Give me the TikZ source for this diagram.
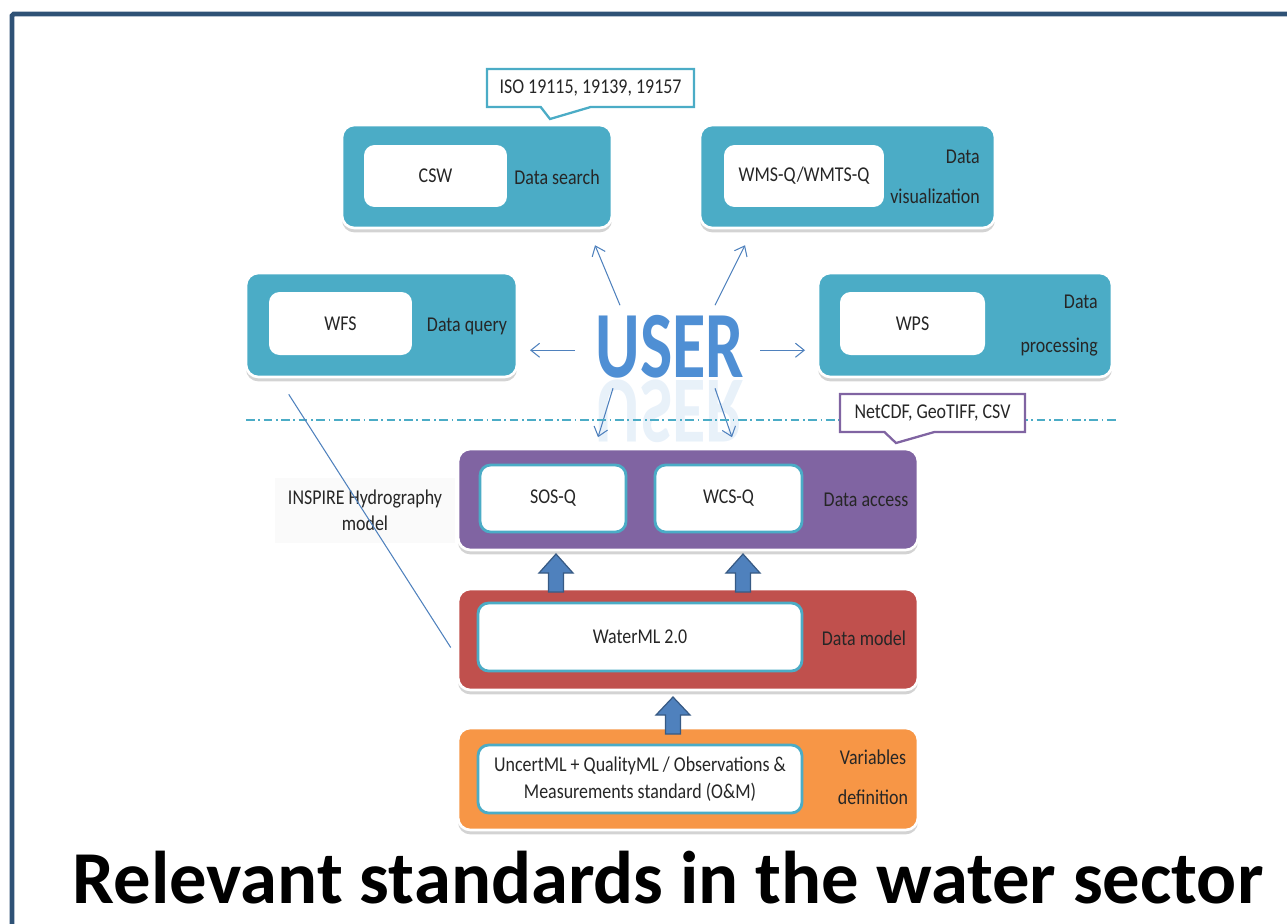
\documentclass[tikz,border=0pt]{standalone}
\usepackage{fontspec}
\setmainfont{Carlito}
\newfontfamily\boxfont{Carlito}[FakeStretch=0.85]
\newfontfamily\userfont{Carlito}[FakeStretch=0.72]
\usetikzlibrary{shapes.callouts,shadows,arrows.meta,calc}

\definecolor{svcteal}{HTML}{4BACC6}
\definecolor{accpurple}{HTML}{8064A2}
\definecolor{mdlred}{HTML}{C0504D}
\definecolor{varorange}{HTML}{F79646}
\definecolor{arrowblue}{HTML}{4F81BD}
\definecolor{userblue}{HTML}{4F8FD4}
\definecolor{framenavy}{HTML}{2F5276}

\begin{document}
\begin{tikzpicture}[x=0.02cm, y=-0.02cm,
    layerbox/.style={rectangle, rounded corners=7pt, draw=white, line width=1.5pt,
      drop shadow={shadow xshift=0pt, shadow yshift=-2.5pt, opacity=0.35}},
    svcbox/.style={layerbox, fill=svcteal},
    innerbox/.style={rectangle, rounded corners=6pt, fill=white, text=black!85,
      font=\fontsize{12}{15}\boxfont},
    stdbox/.style={innerbox, draw=svcteal, line width=1.6pt},
    sidelabel/.style={text=black!85, font=\fontsize{12}{14}\boxfont},
    note/.style={rectangle callout, fill=white, line width=1.3pt, text=black!85,
      font=\fontsize{12}{14}\boxfont, callout pointer width=1cm, minimum height=0.76cm},
    userarrow/.style={draw=arrowblue, line width=0.6pt, -{Straight Barb[length=5pt,width=8pt]}},
    blockarrow/.style={fill=arrowblue, draw=arrowblue!70!black, line width=0.7pt},
    sepline/.style={draw=svcteal, line width=0.8pt, dash pattern=on 5pt off 2pt on 1pt off 2pt},
    linkline/.style={draw=arrowblue, line width=0.6pt}]
  \useasboundingbox (0,0) rectangle (1287,923);

  % Frame
  \draw[framenavy, line width=2.8pt, rounded corners=1pt] (12,930) -- (12,14) -- (1295,14);

  % Services around the user
  \node[svcbox, minimum width=5.4cm, minimum height=2.06cm] (cswbox) at (477,176.5) {};
  \node[innerbox, minimum width=2.86cm, minimum height=1.24cm] (csw) at (435.5,176) {CSW};
  \node[sidelabel] (cswlbl) at (557,177) {Data search};

  \node[svcbox, minimum width=5.9cm, minimum height=2.06cm] (wmsbox) at (847.5,176.5) {};
  \node[innerbox, minimum width=3.2cm, minimum height=1.24cm] (wms) at (804,176) {WMS-Q/WMTS-Q};
  \node[sidelabel, align=right, anchor=east] (wmslbl) at (986,177) {Data\\[9pt]visualization};

  \node[svcbox, minimum width=5.42cm, minimum height=2.08cm] (wfsbox) at (381.5,325) {};
  \node[innerbox, minimum width=2.86cm, minimum height=1.26cm] (wfs) at (340.5,323.5) {WFS};
  \node[sidelabel] (wfslbl) at (467,326) {Data query};

  \node[svcbox, minimum width=5.88cm, minimum height=2.08cm] (wpsbox) at (965,325) {};
  \node[innerbox, minimum width=2.9cm, minimum height=1.26cm] (wps) at (912.5,323.5) {WPS};
  \node[sidelabel, align=right, anchor=east] (wpslbl) at (1104,326) {Data\\[11pt]processing};

  \node[note, draw=svcteal, minimum width=4.14cm, callout absolute pointer={(550,119)}] (isonote) at (590.5,88) {ISO 19115, 19139, 19157};

  % User
  \node[inner sep=0pt, anchor=base, text=userblue, font=\fontsize{54}{54}\userfont\bfseries] (user) at (670,377) {USER};
  \node[inner sep=0pt, anchor=north, text=userblue, text opacity=0.13, font=\fontsize{54}{54}\userfont\bfseries] (userrefl) at (670,379) {\scalebox{1}[-1]{USER}};

  \draw[userarrow] ($(user.center)+(-50,-41)$) -- ++(-25,-60);
  \draw[userarrow] ($(user.center)+(45,-41)$) -- ++(30,-60);
  \draw[userarrow] ($(user.center)+(-95,4)$) -- ++(-45,0);
  \draw[userarrow] ($(user.center)+(90,4)$) -- ++(45,0);
  \draw[userarrow] ($(user.center)+(-57,42)$) -- ++(-15,49);
  \draw[userarrow] ($(user.center)+(45,42)$) -- ++(17,49);

  \draw[sepline] (246,420) -- (1118,420);

  % Data layers
  \node[layerbox, fill=accpurple, minimum width=9.2cm, minimum height=2.02cm] (access) at (688,499.5) {};
  \node[stdbox, minimum width=2.92cm, minimum height=1.34cm] (sos) at (553,498.5) {SOS-Q};
  \node[stdbox, minimum width=2.94cm, minimum height=1.34cm] (wcs) at (728.5,498.5) {WCS-Q};
  \node[sidelabel] (acclbl) at (866,500) {Data access};

  \node[note, draw=accpurple, minimum width=3.7cm, callout absolute pointer={(896,443)}] (fmtnote) at (932.5,413) {NetCDF, GeoTIFF, CSV};

  \node[layerbox, fill=mdlred, minimum width=9.2cm, minimum height=2.02cm] (mdl) at (688,639.5) {};
  \node[stdbox, minimum width=6.48cm, minimum height=1.36cm] (waterml) at (640,637) {WaterML 2.0};
  \node[sidelabel] (mdllbl) at (864,638) {Data model};

  \node[layerbox, fill=varorange, minimum width=9.2cm, minimum height=2.04cm] (vars) at (688,779) {};
  \node[stdbox, minimum width=6.48cm, minimum height=1.36cm, align=center] (uncert) at (640,779) {UncertML + QualityML / Observations \&\\Measurements standard (O\&M)};
  \node[sidelabel, align=center] (varlbl) at (873,777) {Variables\\[9pt]definition};

  % Block arrows
  \draw[blockarrow, shift={(556,592)}] (-7.5,0) -- (-7.5,-19) -- (-17,-19) -- (0,-38) -- (17,-19) -- (7.5,-19) -- (7.5,0) -- cycle;
  \draw[blockarrow, shift={(743,592)}] (-7.5,0) -- (-7.5,-19) -- (-17,-19) -- (0,-38) -- (17,-19) -- (7.5,-19) -- (7.5,0) -- cycle;
  \draw[blockarrow, shift={(673,734)}] (-7.5,0) -- (-7.5,-19) -- (-17,-19) -- (0,-37) -- (17,-19) -- (7.5,-19) -- (7.5,0) -- cycle;

  % Hydrography model
  \node[fill=black!2, minimum width=3.6cm, minimum height=1.3cm, align=center, text=black!85,
    font=\fontsize{12}{15}\boxfont] (inspire) at (365,510.5) {INSPIRE Hydrography\\model};
  \draw[linkline] ($(wfsbox.south west)+(44,16)$) -- ($(mdl.west)+(-6,8)$);

  % Title
  \node[anchor=base, font=\fontsize{42.5}{50}\selectfont\bfseries] (title) at (668,903) {Relevant standards in the water sector};
\end{tikzpicture}
\end{document}
